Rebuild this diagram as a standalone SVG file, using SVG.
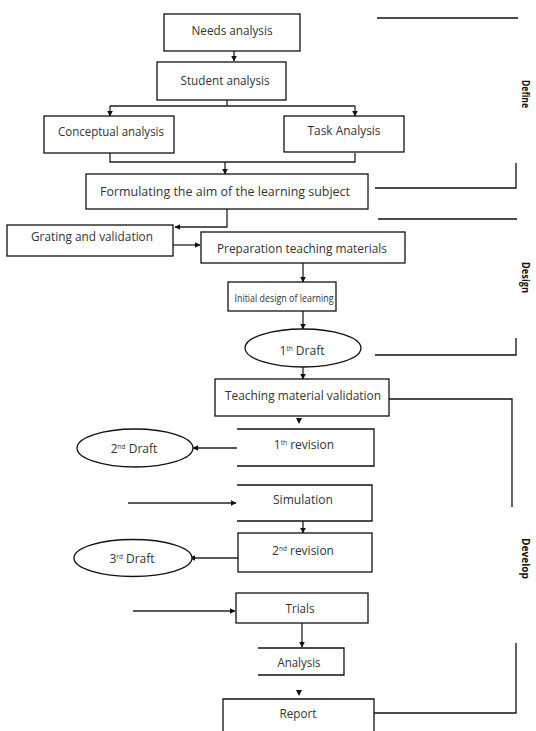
<svg xmlns="http://www.w3.org/2000/svg" width="536" height="731" viewBox="0 0 536 731">
<defs>
<marker id="ah" viewBox="0 0 10 10" refX="9" refY="5" markerWidth="6" markerHeight="6" orient="auto" markerUnits="userSpaceOnUse">
<path d="M0,0 L10,5 L0,10 z" fill="#111"/>
</marker>
<style>
.b{fill:#fff;stroke:#111;stroke-width:1.3}
.l{fill:none;stroke:#111;stroke-width:1.3}
.c{fill:none;stroke:#222;stroke-width:1.3}
.t{font-family:"Open Sans","Liberation Sans",sans-serif;font-size:12px;fill:#333;text-anchor:middle;dominant-baseline:central}
.s{font-size:6.5px;dominant-baseline:auto}
.p{font-family:"Open Sans","Liberation Sans",sans-serif;font-size:11px;font-weight:bold;fill:#111}
</style>
</defs>
<rect width="536" height="731" fill="#fff"/>

<g id="connectors">
<path class="c" d="M234,51 V61" marker-end="url(#ah)"/>
<path class="c" d="M227,100 V106 M110,106 H355"/>
<path class="c" d="M110,106 V116" marker-end="url(#ah)"/>
<path class="c" d="M355,106 V116" marker-end="url(#ah)"/>
<path class="c" d="M110,153 V162 H355 V153"/>
<path class="c" d="M225,162 V174" marker-end="url(#ah)"/>
<path class="c" d="M227,209 V227 H175" marker-end="url(#ah)"/>
<path class="c" d="M173,245 H200" marker-end="url(#ah)"/>
<path class="c" d="M303,263 V282" marker-end="url(#ah)"/>
<path class="c" d="M303,311 V329" marker-end="url(#ah)"/>
<path class="c" d="M303,367 V379" marker-end="url(#ah)"/>
<path d="M296,418 L302,418 L299,424 z" fill="#111"/>
<path class="c" d="M237,448 H193" marker-end="url(#ah)"/>
<path class="c" d="M128,503 H236" marker-end="url(#ah)"/>
<path class="c" d="M303,521 V533" marker-end="url(#ah)"/>
<path class="c" d="M238,558 H190" marker-end="url(#ah)"/>
<path class="c" d="M133,611 H235" marker-end="url(#ah)"/>
<path class="c" d="M302,623 V647" marker-end="url(#ah)"/>
<path d="M296,690 L302,690 L299,696 z" fill="#111"/>
</g>

<g id="phase-lines">
<path class="l" d="M377,18 H518"/>
<path class="l" d="M375,188 H516 V163"/>
<path class="l" d="M378,219 H517"/>
<path class="l" d="M375,355 H516 V338"/>
<path class="l" d="M389,399 H512 V507"/>
<path class="l" d="M374,713 H516 V643"/>
</g>

<g id="phase-define"><text class="p" transform="translate(522,80) rotate(90)" textLength="28" lengthAdjust="spacingAndGlyphs">Define</text></g>
<g id="phase-design"><text class="p" transform="translate(522,262) rotate(90)" textLength="31" lengthAdjust="spacingAndGlyphs">Design</text></g>
<g id="phase-develop"><text class="p" transform="translate(522,538) rotate(90)" textLength="41" lengthAdjust="spacingAndGlyphs">Develop</text></g>

<g id="needs"><rect class="b" x="164" y="14" width="136" height="37"/><text class="t" x="232" y="30" textLength="81" lengthAdjust="spacingAndGlyphs">Needs analysis</text></g>
<g id="student"><rect class="b" x="157" y="62" width="129" height="38"/><text class="t" x="225" y="80" textLength="89" lengthAdjust="spacingAndGlyphs">Student analysis</text></g>
<g id="conceptual"><rect class="b" x="44" y="116" width="130" height="37"/><text class="t" x="111" y="131" textLength="106" lengthAdjust="spacingAndGlyphs">Conceptual analysis</text></g>
<g id="task"><rect class="b" x="284" y="116" width="120" height="36"/><text class="t" x="344" y="130" textLength="73" lengthAdjust="spacingAndGlyphs">Task Analysis</text></g>
<g id="formulating"><rect class="b" x="86" y="174" width="282" height="35"/><text class="t" x="225" y="191" textLength="250" lengthAdjust="spacingAndGlyphs">Formulating the aim of the learning subject</text></g>
<g id="grating"><rect class="b" x="7" y="225" width="166" height="31"/><text class="t" x="92" y="236" textLength="122" lengthAdjust="spacingAndGlyphs">Grating and validation</text></g>
<g id="preparation"><rect class="b" x="201" y="232" width="204" height="31"/><text class="t" x="302" y="248" textLength="170" lengthAdjust="spacingAndGlyphs">Preparation teaching materials</text></g>
<g id="initial"><rect class="b" x="228" y="282" width="108" height="29"/><text class="t" x="284" y="297" style="font-size:11.5px" textLength="99" lengthAdjust="spacingAndGlyphs">Initial design of learning</text></g>
<g id="draft1"><ellipse class="b" cx="303" cy="348" rx="58" ry="19"/><text class="t" x="302" y="350">1<tspan class="s" dy="-2">th</tspan><tspan dy="2"> Draft</tspan></text></g>
<g id="validation"><rect class="b" x="215" y="379" width="174" height="37"/><text class="t" x="303" y="395" textLength="156" lengthAdjust="spacingAndGlyphs">Teaching material validation</text></g>
<g id="revision1"><path class="b" d="M237,429 H374 V466 H237"/><text class="t" x="304" y="444">1<tspan class="s" dy="-2">th</tspan><tspan dy="2"> revision</tspan></text></g>
<g id="draft2"><ellipse class="b" cx="135" cy="448" rx="58" ry="19"/><text class="t" x="134" y="448">2<tspan class="s" dy="-2">nd</tspan><tspan dy="2"> Draft</tspan></text></g>
<g id="simulation"><path class="b" d="M237,485 H372 V521 H237"/><text class="t" x="303" y="499" textLength="60" lengthAdjust="spacingAndGlyphs">Simulation</text></g>
<g id="revision2"><rect class="b" x="238" y="533" width="134" height="39"/><text class="t" x="303" y="550">2<tspan class="s" dy="-2">nd</tspan><tspan dy="2"> revision</tspan></text></g>
<g id="draft3"><ellipse class="b" cx="133" cy="558" rx="59" ry="18.5"/><text class="t" x="132" y="558">3<tspan class="s" dy="-2">rd</tspan><tspan dy="2"> Draft</tspan></text></g>
<g id="trials"><rect class="b" x="236" y="593" width="132" height="30"/><text class="t" x="300" y="608" textLength="29" lengthAdjust="spacingAndGlyphs">Trials</text></g>
<g id="analysis"><path class="b" d="M258,648 H344 V675 H258"/><text class="t" x="299" y="662" textLength="43" lengthAdjust="spacingAndGlyphs">Analysis</text></g>
<g id="report"><path class="b" d="M223,735 V699 H374 V735"/><text class="t" x="298" y="713" textLength="37" lengthAdjust="spacingAndGlyphs">Report</text></g>
</svg>
